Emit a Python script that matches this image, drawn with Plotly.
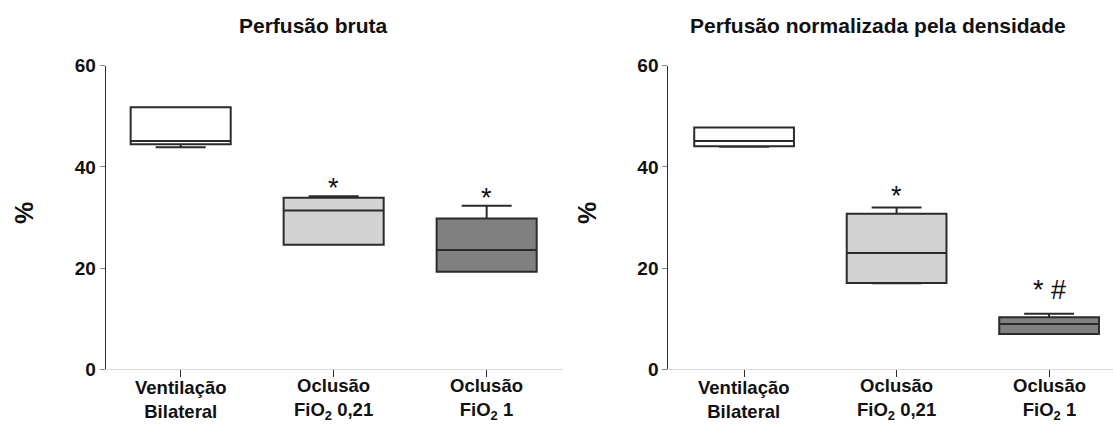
import plotly.graph_objects as go

# Group labels along the x axis
groups = [
    "Ventilação<br>Bilateral",
    "Oclusão<br>FiO<sub>2</sub> 0,21",
    "Oclusão<br>FiO<sub>2</sub> 1",
]
positions = [0, 1, 2]
fills = ["#ffffff", "#d3d3d3", "#808080"]

# Perfusão bruta (%)
raw_low = [43.9, 24.6, 19.3]
raw_q1 = [44.5, 24.6, 19.3]
raw_med = [45.1, 31.4, 23.6]
raw_q3 = [51.8, 33.9, 29.8]
raw_high = [51.8, 34.2, 32.3]
raw_marks = ["", "*", "*"]

# Perfusão normalizada pela densidade (%)
norm_low = [44.0, 17.0, 7.0]
norm_q1 = [44.1, 17.05, 7.0]
norm_med = [45.1, 23.0, 8.95]
norm_q3 = [47.8, 30.75, 10.3]
norm_high = [47.8, 32.0, 11.0]
norm_marks = ["", "*", "* #"]

titles = ["Perfusão bruta", "Perfusão normalizada pela densidade"]
y_ticks = [0, 20, 40, 60]

FONT = "Liberation Sans, Arial, sans-serif"
W, H = 1113, 425
LINE = "#2b2b2b"
INK = "#111111"

fig = go.Figure()

# pixel lift of each significance mark above its upper whisker
mark_lift = {("x", 1): 8, ("x", 2): 8, ("x2", 1): 11, ("x2", 2): 24}

panels = [
    ("x", "y", raw_low, raw_q1, raw_med, raw_q3, raw_high, raw_marks),
    ("x2", "y2", norm_low, norm_q1, norm_med, norm_q3, norm_high, norm_marks),
]

for xa, ya, lo, q1, med, q3, hi, marks in panels:
    for i, pos in enumerate(positions):
        fig.add_trace(go.Box(
            x=[pos], q1=[q1[i]], median=[med[i]], q3=[q3[i]],
            lowerfence=[lo[i]], upperfence=[hi[i]],
            fillcolor=fills[i], line=dict(color=LINE, width=2),
            width=0.654, whiskerwidth=0.5, boxpoints=False,
            hoverinfo="skip", showlegend=False,
            xaxis=xa, yaxis=ya,
        ))
        if marks[i]:
            fig.add_annotation(
                x=pos, y=hi[i], xref=xa, yref=ya, text=marks[i],
                showarrow=False, xanchor="center", yanchor="middle",
                yshift=mark_lift[(xa, i)],
                font=dict(family=FONT, size=27, color=INK),
            )
        # two-line group label under each tick
        fig.add_annotation(
            x=pos, y=1 - 399 / H, xref=xa, yref="paper",
            text=groups[i], showarrow=False,
            xanchor="center", yanchor="middle",
            font=dict(family=FONT, size=18.5, color=INK, weight="bold"),
        )

# Plot areas placed in pixels
y_bottom = 1 - 369.3 / H
y_top = 1 - 65.7 / H

xaxis_common = dict(
    tickmode="array", tickvals=positions, showticklabels=False,
    showline=True, linecolor="#d9d9d9", linewidth=1,
    ticks="outside", ticklen=7, tickcolor=LINE, tickwidth=1,
    showgrid=False, zeroline=False, automargin=False,
)
yaxis_common = dict(
    range=[0, 60], tickmode="array", tickvals=y_ticks,
    showline=True, linecolor=LINE, linewidth=1,
    ticks="outside", ticklen=5, tickcolor="#888", tickwidth=1,
    showgrid=False, zeroline=False, automargin=False,
    tickfont=dict(family=FONT, size=19, color=INK, weight="bold"),
    domain=[y_bottom, y_top],
)

fig.update_layout(
    width=W, height=H,
    margin=dict(l=0, r=0, t=0, b=0, autoexpand=False),
    paper_bgcolor="white", plot_bgcolor="white",
    xaxis=dict(xaxis_common, domain=[105.7 / W, 563 / W],
               range=[-0.49, 2.499], anchor="y"),
    yaxis=dict(yaxis_common, anchor="x"),
    xaxis2=dict(xaxis_common, domain=[668.3 / W, 1.0],
                range=[-0.497, 2.419], anchor="y2"),
    yaxis2=dict(yaxis_common, anchor="x2"),
)

# Panel titles
for title, cx in zip(titles, [313, 878]):
    fig.add_annotation(
        x=cx / W, y=1 - 26 / H, xref="paper", yref="paper",
        text=title, showarrow=False,
        xanchor="center", yanchor="middle",
        font=dict(family=FONT, size=21, color=INK, weight="bold"),
    )

# Y axis titles
for cx in [24, 587]:
    fig.add_annotation(
        x=cx / W, y=1 - 213 / H, xref="paper", yref="paper",
        text="%", showarrow=False, textangle=-90,
        xanchor="center", yanchor="middle",
        font=dict(family=FONT, size=25, color=INK, weight="bold"),
    )

fig.write_html("out.html")
